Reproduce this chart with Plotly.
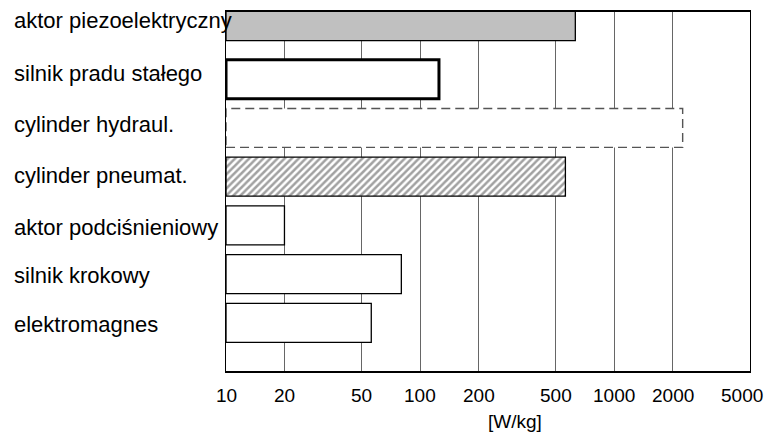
import math
import plotly.graph_objects as go

# ---- data ----
categories = ["aktor piezoelektryczny", "silnik pradu stałego", "cylinder hydraul.",
              "cylinder pneumat.", "aktor podciśnieniowy", "silnik krokowy", "elektromagnes"]
power_density = [630, 125, 2250, 560, 20, 80, 56]   # W/kg
tick_values = [10, 20, 50, 100, 200, 500, 1000, 2000, 5000]
tick_labels = ["10", "20", "50", "100", "200", "500", "1000", "2000", "5000"]
axis_title = "[W/kg]"

# ---- layout geometry ----
W, H = 768, 437
ML, MR, MT, MB = 226, 18, 12, 66
plot_w = W - ML - MR
plot_h = H - MT - MB
x_min = 10
n = len(categories)
positions = [n - 1 - i for i in range(n)]
FONT = "Liberation Sans, Arial, sans-serif"

# per-bar styles
fill_colors = ["#c0c0c0", "white", "white", "white", "white", "white", "white"]
line_widths = [1.3, 3, 0, 1.3, 1.3, 1.3, 1.3]
patterns = ["", "", "", "/", "", "", ""]
bar_widths = [0.8] * n
bar_offsets = [-0.21, -0.4, -0.4, -0.4, -0.4, -0.4, -0.4]
label_yshift = [10, 6, 3, 1, -2, -1.5, -1.2]

fig = go.Figure()
fig.add_trace(go.Bar(
    orientation="h",
    y=positions,
    x=[v - x_min for v in power_density],
    base=[x_min] * n,
    width=bar_widths,
    offset=bar_offsets,
    marker=dict(
        color=fill_colors,
        line=dict(color="black", width=line_widths),
        pattern=dict(shape=patterns, fgcolor="black", bgcolor="white", size=5, solidity=0.5),
    ),
    hoverinfo="skip",
    showlegend=False,
))

# dashed outline for the hydraulic cylinder bar
hi = categories.index("cylinder hydraul.")
hv = power_density[hi]
hp = positions[hi]
fig.add_trace(go.Scatter(
    x=[x_min, hv, hv, x_min, x_min],
    y=[hp - 0.4, hp - 0.4, hp + 0.4, hp + 0.4, hp - 0.4],
    mode="lines",
    line=dict(color="#555555", width=1.4, dash="9px,5px"),
    hoverinfo="skip",
    showlegend=False,
))

# category labels, left aligned at the left edge of the figure
for cat, p, ys in zip(categories, positions, label_yshift):
    fig.add_annotation(
        text=cat, xref="paper", yref="y", x=(12 - ML) / plot_w, y=p,
        xanchor="left", yanchor="middle", yshift=ys, showarrow=False,
        font=dict(family=FONT, size=22, color="black"),
    )

# x tick labels (as annotations so that the last one can sit inside the figure)
for tv, tl in zip(tick_values, tick_labels):
    last = tv == tick_values[-1]
    fig.add_annotation(
        text=tl, xref="x", yref="paper", x=math.log10(tv), y=0,
        xanchor="center", yanchor="middle", yshift=-24, xshift=-8 if last else 0,
        showarrow=False, font=dict(family=FONT, size=19, color="black"),
    )

fig.add_annotation(
    text=axis_title, xref="paper", yref="paper", x=(515 - ML) / plot_w, y=0,
    yshift=-50, xanchor="center", yanchor="middle", showarrow=False,
    font=dict(family=FONT, size=19, color="black"),
)

xr = [math.log10(x_min) - 1e-4, math.log10(tick_values[-1]) + 1e-4]
px_per_unit = 48.72
y_lo = -(371 - 322.8) / px_per_unit
y_hi = y_lo + plot_h / px_per_unit

fig.update_layout(
    width=W, height=H,
    margin=dict(l=ML, r=MR, t=MT, b=MB, pad=0, autoexpand=False),
    paper_bgcolor="white", plot_bgcolor="white",
    barmode="overlay",
    font=dict(family=FONT, size=19, color="black"),
    xaxis=dict(
        type="log", range=xr, tickvals=tick_values, showticklabels=False,
        showgrid=True, gridcolor="#666666", gridwidth=1,
        showline=True, linecolor="black", linewidth=1.5, mirror=True,
        ticks="", zeroline=False, layer="above traces", automargin=False,
    ),
    xaxis2=dict(
        type="log", range=xr, overlaying="x", anchor="y", side="bottom",
        tickvals=[100, 1000], showticklabels=False, ticks="", automargin=False,
        showgrid=True, gridcolor="black", gridwidth=1.6, showline=False, zeroline=False,
    ),
    yaxis=dict(
        range=[y_lo, y_hi], showgrid=False, showticklabels=False, ticks="",
        showline=True, linecolor="black", linewidth=1, mirror=True,
        zeroline=False, layer="below traces", automargin=False,
    ),
)

fig.write_html(
    "out.html",
    config={"displayModeBar": False},
    post_script="document.body.style.margin='0';document.body.style.overflow='hidden';",
)
